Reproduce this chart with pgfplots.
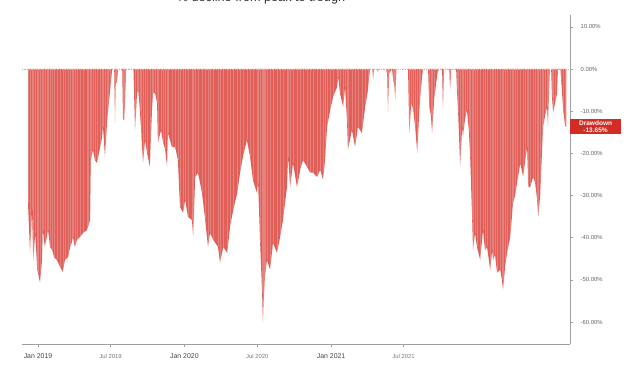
\documentclass[border=0pt]{standalone}
\usepackage{pgfplots}
\usepackage{pgfplotstable}
\pgfplotsset{compat=1.18}
\usepackage{fontspec}
\setmainfont{Liberation Sans}
\definecolor{barred}{RGB}{224,96,89}
\definecolor{boxred}{RGB}{210,44,36}
\definecolor{axgray}{RGB}{160,160,160}
\definecolor{labgray}{RGB}{100,100,100}
\definecolor{jangray}{RGB}{70,70,70}
\definecolor{julgray}{RGB}{120,120,120}
\pgfplotstableread{
day dd
-25 0
-25 -31.8
-20 -43.6
-15 -33.4
-12 -45.3
-7 -38.9
-2 -47.6
0 -48.3
5 -50.7
10 -45.3
12 -38.2
17 -42.2
22 -39.8
25 -38.2
30 -42.2
35 -42.9
40 -44.6
47 -45.3
55 -46.9
62 -48.1
67 -45.3
75 -44.6
80 -42.2
85 -41.0
87 -39.8
92 -42.2
97 -40.5
105 -39.8
112 -38.9
122 -38.2
125 -37.4
130 -35.8
132 -21.6
137 -19.2
142 -21.6
147 -22.3
155 -18.5
160 -16.1
162 -13.7
167 -20.9
172 -12.8
175 -9.7
180 -5.0
185 0
190 0
192 -12.8
194 -3.3
197 -3.3
200 0
210 0
212 -12.1
215 -12.1
217 -8.1
220 0
238 0
242 -14.5
247 -5.7
250 -5.0
254 -9.7
258 -16
262 -22.3
267 -16.8
272 -19.9
279 -23.2
284 -10.4
287 -5.7
292 -5.7
297 -8.1
299 -17.5
307 -14.5
312 -17.5
317 -19
322 -23.2
324 -15.2
334 -18.5
342 -18.5
349 -21.6
354 -32.7
362 -34.1
367 -31.0
374 -35.1
384 -35.8
387 -39.8
392 -25.6
399 -24.6
409 -29.4
417 -35.8
424 -42.2
429 -38.9
437 -40.5
449 -42.2
454 -46.0
462 -42.2
472 -43.6
479 -37.4
487 -33.4
497 -29.4
504 -24.6
511 -20.9
521 -16.8
529 -20.9
536 -26.3
546 -29.4
549 -27.0
554 -41.2
559 -53.1
561 -60.2
563 -55
566 -49.3
571 -45.3
579 -47.6
586 -41.2
596 -43.6
604 -39.8
611 -35.8
621 -28.0
624 -20.9
629 -28.0
636 -22.3
646 -28.0
654 -23.9
661 -21.6
671 -23.2
679 -24.6
686 -24.6
696 -25.6
704 -23.9
711 -26.3
716 -21.6
721 -13.7
729 -9.7
736 -6.6
746 -4.3
749 -1.9
753 -5.7
761 -9.0
766 -4.3
771 -12.8
773 -19.2
783 -14.5
791 -18.5
798 -13.7
808 -15.2
816 -9.0
823 -5.0
828 0
834 0
836 -2.6
838 0
846 0
848 -0.8
850 0
868 0
871 -1.2
873 -10.2
876 -1.0
883 0
886 -2.6
889 -4
891 -7.3
894 0
923 0
926 -15.2
931 -8
936 -9.7
941 -14
946 -19.9
950 -12
953 -7.3
958 -1.9
961 0
973 0
976 -9.0
980 -11
983 -15.2
988 -7.3
996 -1.2
1000 0
1008 0
1010 -9.7
1013 0
1026 0
1028 -5.0
1031 0
1043 0
1045 -5.0
1048 -10.4
1053 -23.2
1058 -13.7
1060 -16.1
1065 -12
1070 -9.7
1075 -15
1078 -20.9
1083 -35.8
1085 -42.9
1090 -38.9
1095 -42.2
1103 -45.3
1110 -38.2
1115 -43
1120 -42.2
1128 -47.6
1133 -42.9
1135 -45.3
1140 -44
1145 -48.3
1153 -47.6
1157 -50
1160 -52.4
1165 -47
1170 -43.6
1178 -39.8
1183 -34.1
1185 -31.8
1190 -30
1195 -27.0
1203 -22.3
1210 -25.6
1215 -22
1220 -18.5
1223 -28.0
1228 -28.0
1235 -25.6
1240 -27
1245 -31.0
1248 -35.1
1253 -29.4
1257 -20
1260 -13.7
1265 -11
1270 -9.0
1272 -13.7
1275 -5
1277 0
1280 0
1282 -6.6
1285 -10.4
1290 -8
1295 -5.7
1297 0
1303 0
1305 -2.6
1310 -9.7
1315 -13.65
1318 -13.65
1318 0
}\ddata
\begin{document}
\begin{tikzpicture}
\useasboundingbox (0pt,0pt) rectangle (480pt,285.75pt);
\node[anchor=base,font=\fontsize{9.5}{11}\selectfont,text=black!80] at (195.75pt,284.25pt) {\% decline from peak to trough};
\begin{axis}[
  at={(16.5pt,27.75pt)}, anchor=south west,
  scale only axis, width=411pt, height=246.75pt,
  xmin=-40, xmax=1327, ymin=-65.2, ymax=12.8,
  axis x line*=bottom, axis y line*=right,
  axis line style={axgray, line width=0.5pt},
  tick style={axgray, line width=0.4pt},
  tick align=outside, major tick length=2.5pt,
  ytick={-60,-50,-40,-30,-20,-10,0,10},
  yticklabel={\pgfmathprintnumber[fixed,fixed zerofill,precision=2]{\tick}\%},
  /pgf/number format/assume math mode=true,
  yticklabel style={font=\fontsize{4.4}{5}\selectfont, text=labgray, anchor=west, xshift=2pt},
  xtick={0,181,365,547,731,912},
  xticklabels={{\fontsize{5.2}{6}\selectfont\color{jangray}Jan 2019},
               {\fontsize{4.4}{5}\selectfont\color{julgray}Jul 2019},
               {\fontsize{5.2}{6}\selectfont\color{jangray}Jan 2020},
               {\fontsize{4.4}{5}\selectfont\color{julgray}Jul 2020},
               {\fontsize{5.2}{6}\selectfont\color{jangray}Jan 2021},
               {\fontsize{4.4}{5}\selectfont\color{julgray}Jul 2021}},
  xticklabel style={anchor=north, yshift=-1.5pt},
  clip=false,
]
\addplot[draw=none, fill=barred] table[x=day,y=dd] {\ddata} -- cycle;
\addplot[ycomb, draw=white, opacity=0.22, line width=0.25pt, mark=none] table[x=day,y=dd] {\ddata};
\draw[axgray!70, densely dotted, line width=0.3pt] (axis cs:-40,0) -- (axis cs:1327,0);
\node[anchor=west, fill=boxred, text=white, inner xsep=2pt, inner ysep=1.2pt, align=center,
      font=\bfseries\fontsize{4.9}{5.5}\selectfont, minimum width=38pt] at (axis cs:1327,-13.65)
      {Drawdown\\-13.65\%};
\end{axis}
\end{tikzpicture}
\end{document}
